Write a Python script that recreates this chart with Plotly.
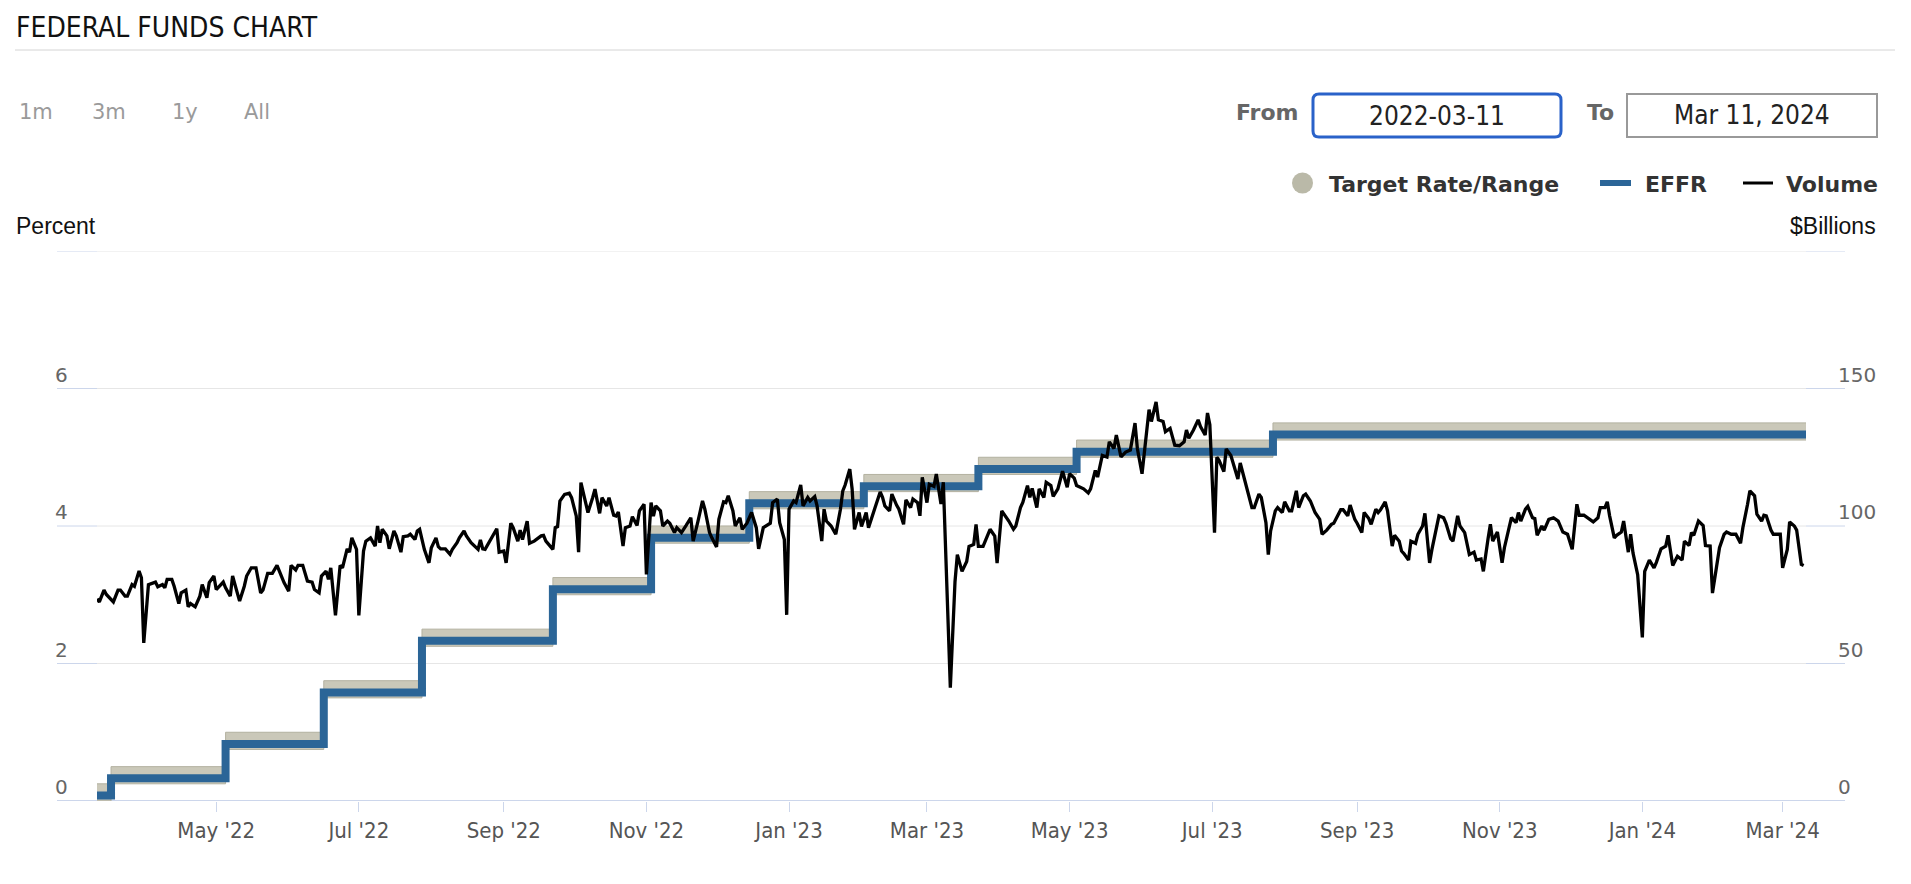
import plotly.graph_objects as go
import pandas as pd

# ---------------- DATA ----------------
START_DATE = "2022-03-11"
END_DATE = "2024-03-11"

# Policy changes (step series)
rate_dates = ["2022-03-11", "2022-03-17", "2022-05-05", "2022-06-16", "2022-07-28", "2022-09-22",
              "2022-11-03", "2022-12-15", "2023-02-02", "2023-03-23", "2023-05-04", "2023-07-27",
              "2024-03-11"]
effr_values = [0.08, 0.33, 0.83, 1.58, 2.33, 3.08, 3.83, 4.33, 4.58, 4.83, 5.08, 5.33, 5.33]
target_lower = [0.00, 0.25, 0.75, 1.50, 2.25, 3.00, 3.75, 4.25, 4.50, 4.75, 5.00, 5.25, 5.25]
target_upper = [0.25, 0.50, 1.00, 1.75, 2.50, 3.25, 4.00, 4.50, 4.75, 5.00, 5.25, 5.50, 5.50]

# Volume ($Billions); x given as days after START_DATE
vol_days_1 = [0, 1, 3, 4, 7, 9, 10, 12, 13, 15, 16, 18, 19, 20, 22, 23, 25, 26, 28, 29, 30, 32, 33, 35, 36, 38,
              39, 40, 42, 44, 45, 47, 48, 50, 51, 54, 55, 57, 58, 60, 61, 63, 64, 66, 68, 70, 71, 73, 75, 77,
              79, 80, 82, 83, 85, 86, 88, 89, 90, 92, 93, 95, 96, 98, 99, 100, 102, 104, 105, 107, 108, 109,
              111, 112, 114, 115, 117, 119, 120, 121]
vol_vals_1 = [73.5, 72.4, 76.7, 75.1, 72.4, 76.7, 76.7, 74.5, 74.5, 78.7, 78.1, 83.6, 81.2, 57.5, 78.7, 79.1,
              79.6, 77.9, 78.7, 77.5, 80.6, 80.6, 78.1, 71.8, 75.7, 76.7, 70.6, 71.8, 70.6, 74.5, 78.7, 73.9,
              79.4, 81.8, 76.9, 79.6, 77.5, 74.5, 81.8, 75.7, 72.7, 78.1, 81.8, 84.8, 84.8, 75.7, 76.7, 82.8,
              82.8, 85.7, 81.2, 79.4, 76.3, 85.7, 84.0, 85.7, 85.7, 82.4, 80.0, 79.6, 76.9, 75.7, 81.8, 83.6,
              80.6, 84.8, 67.5, 85.7, 84.8, 91.7, 90.5, 95.7, 91.5, 67.5, 90.9, 94.5, 95.7, 92.7, 100.0, 93.9]

vol_days_2 = [122, 124, 125, 127, 128, 130, 131, 133, 134, 136, 137, 138, 140, 142, 143, 145, 146, 147, 149,
              151, 152, 154, 155, 157, 158, 160, 161, 163, 164, 165, 166, 168, 170, 171, 172, 174, 175, 177,
              178, 180, 181, 182, 184, 185, 187, 188, 190, 191, 192, 195, 196, 197, 198, 200, 202, 203, 205,
              206, 207, 209, 210, 212, 213, 215, 216, 218, 219, 221, 222, 223, 225, 226, 228, 229, 231, 232,
              234, 235, 237, 238, 239]
vol_vals_2 = [98.8, 96.4, 91.7, 98.2, 96.4, 90.5, 96.1, 96.4, 97.0, 95.1, 98.2, 98.8, 91.5, 86.6, 92.1, 95.7,
              92.5, 91.7, 91.7, 89.7, 91.5, 93.9, 95.7, 98.2, 96.4, 93.9, 93.0, 91.5, 94.9, 91.7, 91.5, 94.5,
              97.0, 99.0, 90.5, 90.9, 86.6, 101.0, 99.4, 94.5, 98.5, 95.1, 101.8, 93.7, 94.5, 95.1, 96.4, 96.6,
              94.5, 91.5, 99.4, 99.8, 109.1, 111.5, 111.9, 110.3, 103.6, 90.5, 115.8, 108.5, 104.9, 110.3,
              113.4, 104.6, 110.3, 107.3, 110.3, 103.9, 103.6, 105.1, 92.7, 99.4, 100.0, 103.4, 100.2, 105.5,
              107.9, 82.4, 108.5, 103.6, 107.3]

vol_days_3 = [241, 242, 244, 245, 247, 248, 250, 251, 252, 254, 255, 257, 259, 260, 262, 263, 265, 266, 268,
              269, 270, 272, 273, 275, 276, 278, 279, 280, 282, 283, 285, 286, 288, 289, 291, 292, 294, 295,
              296, 298, 299, 301, 302, 304, 305, 307, 308, 310, 311, 312, 314, 316, 318, 319, 320, 322, 323,
              324, 326, 327, 329, 330, 332, 335, 336, 337, 339, 340, 342, 343, 345, 346, 348, 349, 351, 352,
              353, 355, 356, 358, 359]
vol_vals_3 = [105.5, 100.0, 101.8, 101.0, 97.6, 99.4, 97.6, 98.8, 100.2, 103.0, 94.5, 101.5, 109.1, 106.1,
              97.6, 95.7, 92.4, 102.4, 108.8, 108.5, 111.0, 105.5, 100.0, 103.0, 98.8, 101.0, 103.0, 104.9,
              99.4, 91.7, 99.4, 100.0, 101.0, 108.5, 109.8, 101.2, 95.1, 67.7, 106.1, 109.1, 108.5, 114.9,
              107.3, 110.4, 109.1, 110.7, 107.3, 94.5, 106.1, 101.8, 100.0, 97.0, 106.1, 112.8, 114.9, 120.7,
              113.4, 98.8, 104.9, 99.8, 104.9, 99.4, 104.9, 112.4, 110.4, 107.3, 105.5, 111.6, 107.6, 106.1,
              100.6, 109.5, 106.7, 109.8, 108.5, 103.7, 117.7, 108.5, 115.2, 114.4, 118.9]

vol_days_4 = [361, 362, 363, 365, 367, 368, 370, 372, 373, 375, 376, 377, 379, 382, 384, 385, 387, 389, 390,
              392, 393, 395, 396, 398, 399, 400, 402, 403, 405, 406, 408, 409, 411, 413, 415, 416, 418, 419,
              422, 424, 425, 427, 428, 430, 432, 433, 435, 436, 438, 440, 442, 444, 445, 447, 449, 450, 451,
              453, 454, 456, 457, 459, 461, 463, 465, 466, 467, 469, 471, 472, 474, 475, 476, 478, 479, 480]
vol_vals_4 = [108.0, 115.9, 91.4, 41.2, 79.8, 89.6, 83.5, 87.1, 92.6, 93.3, 100.6, 92.6, 92.6, 98.8, 96.3,
              86.5, 105.5, 103.1, 101.8, 98.8, 100.0, 106.7, 108.6, 114.7, 110.4, 113.7, 106.7, 113.5, 110.4,
              115.9, 114.7, 110.8, 113.5, 119.9, 114.1, 119.0, 117.4, 114.7, 113.5, 112.0, 113.5, 120.2, 117.8,
              125.7, 125.1, 130.6, 128.2, 133.1, 125.1, 126.9, 127.6, 137.4, 128.2, 119.0, 134.9, 142.3, 138.0,
              145.1, 138.6, 138.0, 134.3, 135.5, 129.4, 129.2, 130.6, 134.9, 131.9, 134.9, 138.6, 136.2, 133.1,
              141.1, 136.8, 97.6, 125.0, 123.8]

vol_days_5 = [482, 483, 485, 486, 488, 489, 491, 492, 494, 495, 497, 498, 500, 501, 502, 504, 505, 507, 508,
              510, 511, 513, 514, 516, 517, 519, 521, 523, 524, 526, 528, 529, 532, 533, 535, 536, 538, 539,
              541, 542, 544, 545, 547, 548, 549, 551, 552, 554, 555, 557, 558, 559, 561, 562, 564, 565, 567,
              568, 570, 571, 573, 574, 576, 577, 579, 580, 582, 583, 585, 586, 587, 589, 590, 592, 593, 595]
vol_vals_5 = [119.8, 128.0, 125.6, 122.6, 117.1, 122.9, 116.5, 112.8, 106.7, 106.7, 111.6, 110.4, 101.2, 89.6,
              98.2, 105.5, 106.7, 104.9, 108.8, 105.5, 105.5, 112.8, 106.7, 111.0, 111.6, 109.1, 104.9, 102.4,
              97.0, 98.5, 100.6, 101.0, 105.9, 105.9, 103.7, 107.6, 102.4, 101.0, 97.6, 104.9, 102.7, 100.6,
              106.1, 104.9, 105.9, 108.8, 105.5, 92.7, 96.6, 94.5, 90.9, 90.0, 87.6, 94.5, 93.7, 97.0, 100.0,
              104.6, 86.6, 91.5, 98.8, 103.7, 103.0, 101.0, 95.4, 94.5, 103.7, 100.0, 97.6, 93.7, 89.6, 90.5,
              87.6, 88.0, 83.5, 95.4]

vol_days_6 = [596, 597, 599, 601, 602, 604, 605, 607, 608, 609, 611, 612, 614, 615, 616, 618, 619, 621, 623,
              625, 627, 629, 631, 633, 634, 636, 639, 640, 642, 643, 645, 646, 647, 649, 650, 652, 653, 655,
              656, 657, 659, 661, 662, 664, 666, 667, 669, 671, 672, 674, 676, 678, 679, 681, 682, 683, 685,
              687, 688, 690, 691, 692, 694, 696, 697, 699, 701, 703, 704, 706, 707, 709, 710, 712, 713, 714,
              716, 717, 719, 720, 721, 723, 724, 726, 727, 729, 730]
vol_vals_6 = [100.6, 94.5, 97.8, 86.6, 92.1, 99.4, 103.0, 101.2, 104.9, 101.8, 106.1, 107.1, 103.0, 102.7,
              96.6, 100.0, 98.5, 102.4, 103.0, 101.8, 97.8, 97.0, 91.5, 107.9, 103.9, 103.9, 102.2, 101.5,
              103.0, 106.7, 106.7, 108.8, 103.7, 95.7, 96.6, 97.8, 101.8, 90.5, 97.0, 90.2, 82.3, 59.5, 83.5,
              87.6, 84.8, 86.8, 91.7, 92.7, 96.6, 85.6, 89.0, 87.6, 94.5, 92.9, 97.6, 96.6, 101.8, 100.2, 92.9,
              92.7, 75.6, 81.7, 92.1, 97.0, 97.8, 97.0, 97.0, 93.7, 99.4, 107.9, 112.8, 111.0, 104.3, 101.8,
              103.9, 103.7, 98.5, 97.0, 97.0, 97.0, 84.8, 91.5, 101.5, 100.0, 98.5, 86.0, 85.6]

left_ticks = [0, 2, 4, 6]
right_ticks = [0, 50, 100, 150]
grid_levels = [0, 2, 4, 6, 8]
range_buttons = ["1m", "3m", "1y", "All"]

# ---------------- BUILD ----------------
segments = [(vol_days_1, vol_vals_1), (vol_days_2, vol_vals_2), (vol_days_3, vol_vals_3),
            (vol_days_4, vol_vals_4), (vol_days_5, vol_vals_5), (vol_days_6, vol_vals_6)]
vol_days, vol_vals = [], []
for i, (d, v) in enumerate(segments):
    if len(d) != len(v):
        raise ValueError(f"segment {i+1}: {len(d)} days vs {len(v)} values")
    vol_days += d
    vol_vals += v
start = pd.Timestamp(START_DATE)
vol_dates = [(start + pd.Timedelta(days=d)).strftime("%Y-%m-%d") for d in vol_days]

W, H = 1911, 884
L, R, T, B = 97, 1806, 251, 801


def px(x):
    return (x - L) / (R - L)


def py(y):
    return (B - y) / (B - T)


BAND_LINE = "#b3b1a0"
BAND_FILL = "#cac8b9"
BLUE = "#2b6597"
AXIS_BLUE = "#ccd6eb"
GRID = "#e6e6e6"

fig = go.Figure()
fig.add_trace(go.Scatter(x=rate_dates, y=target_lower, mode="lines", line=dict(color=BAND_LINE, width=1, shape="hv"),
                         hoverinfo="skip", showlegend=False))
fig.add_trace(go.Scatter(x=rate_dates, y=target_upper, mode="lines", line=dict(color=BAND_LINE, width=1, shape="hv"),
                         fill="tonexty", fillcolor=BAND_FILL, name="Target Rate/Range", showlegend=False))
fig.add_trace(go.Scatter(x=rate_dates, y=effr_values, mode="lines", line=dict(color=BLUE, width=8, shape="hv"),
                         name="EFFR", showlegend=False))
fig.add_trace(go.Scatter(x=vol_dates, y=vol_vals, mode="lines", line=dict(color="black", width=3.3),
                         name="Volume", yaxis="y2", showlegend=False))

shapes = []
for g in grid_levels:
    col = AXIS_BLUE if g == 0 else GRID
    shapes.append(dict(type="line", xref="paper", yref="y", x0=0, x1=1, y0=g, y1=g,
                       line=dict(color=col, width=2 if g == 0 else 1), layer="below"))
    shapes.append(dict(type="line", xref="paper", yref="y", x0=px(57), x1=0, y0=g, y1=g,
                       line=dict(color=AXIS_BLUE, width=2 if g == 0 else 1), layer="below"))
    shapes.append(dict(type="line", xref="paper", yref="y", x0=1, x1=px(1845), y0=g, y1=g,
                       line=dict(color=AXIS_BLUE, width=2 if g == 0 else 1), layer="below"))

# title rule
shapes.append(dict(type="line", xref="paper", yref="paper", x0=px(15), x1=px(1895), y0=py(50), y1=py(50),
                   line=dict(color="#d4d4d4", width=1)))


def rrect(x0, y0, x1, y1, r):
    pts = [("M", [(x0 + r, y0)]), ("L", [(x1 - r, y0)]), ("Q", [(x1, y0), (x1, y0 + r)]),
           ("L", [(x1, y1 - r)]), ("Q", [(x1, y1), (x1 - r, y1)]), ("L", [(x0 + r, y1)]),
           ("Q", [(x0, y1), (x0, y1 - r)]), ("L", [(x0, y0 + r)]), ("Q", [(x0, y0), (x0 + r, y0)])]
    s = ""
    for cmd, ps in pts:
        s += cmd + " " + " ".join(f"{px(a):.6f},{py(b):.6f}" for a, b in ps) + " "
    return s + "Z"


shapes.append(dict(type="path", xref="paper", yref="paper", path=rrect(1313, 94, 1561, 137, 6),
                   line=dict(color="#2a62c9", width=3), fillcolor="white"))
shapes.append(dict(type="rect", xref="paper", yref="paper", x0=px(1627), x1=px(1877), y0=py(94), y1=py(137),
                   line=dict(color="#999999", width=2), fillcolor="white"))

# legend symbols
shapes.append(dict(type="circle", xref="paper", yref="paper", x0=px(1292), x1=px(1313), y0=py(193.5), y1=py(172.5),
                   line=dict(width=0), fillcolor="#bab9a8"))
shapes.append(dict(type="line", xref="paper", yref="paper", x0=px(1600), x1=px(1631), y0=py(183), y1=py(183),
                   line=dict(color=BLUE, width=6)))
shapes.append(dict(type="line", xref="paper", yref="paper", x0=px(1743), x1=px(1773), y0=py(183), y1=py(183),
                   line=dict(color="black", width=3)))

ann = []


def text(x, y, s, size, color, family, xanchor="left", yanchor="middle", weight="normal"):
    ann.append(dict(xref="paper", yref="paper", x=px(x), y=py(y), text=s, showarrow=False,
                    xanchor=xanchor, yanchor=yanchor,
                    font=dict(size=size, color=color, family=family, weight=weight)))


COND = "DejaVu Sans Condensed, sans-serif"
text(14, 27, "FEDERAL FUNDS CHART", 28, "#111111", COND)
btn_x = [17, 90, 170, 242]
for bx, lab in zip(btn_x, range_buttons):
    text(bx, 112, lab, 21, "#9a9a9a", "DejaVu Sans")
text(1301, 112, "From", 22, "#666666", "DejaVu Sans", xanchor="right", weight="bold")
text(1616, 112, "To", 22, "#666666", "DejaVu Sans", xanchor="right", weight="bold")
text(1437, 116, "2022-03-11", 26, "#222222", "DejaVu Sans Condensed, DejaVu Sans", xanchor="center")
text(1752, 115, "Mar 11, 2024", 26, "#222222", "DejaVu Sans Condensed, DejaVu Sans", xanchor="center")
text(1327, 184, "Target Rate/Range", 22, "#333333", "DejaVu Sans", weight="bold")
text(1643, 184, "EFFR", 22, "#333333", "DejaVu Sans", weight="bold")
text(1784, 184, "Volume", 22, "#333333", "DejaVu Sans", weight="bold")
text(14, 226, "Percent", 23, "#111111", "Liberation Sans, Arial")
text(1878, 226, "$Billions", 23, "#111111", "Liberation Sans, Arial", xanchor="right")

for v in left_ticks:
    ann.append(dict(xref="paper", yref="y", x=px(53), y=v, text=str(v), showarrow=False,
                    xanchor="left", yanchor="bottom", yshift=0,
                    font=dict(size=20, color="#666666", family="DejaVu Sans")))
for v in right_ticks:
    ann.append(dict(xref="paper", yref="y2", x=px(1836), y=v, text=str(v), showarrow=False,
                    xanchor="left", yanchor="bottom", yshift=0,
                    font=dict(size=20, color="#666666", family="DejaVu Sans")))

fig.update_layout(
    width=W, height=H, autosize=False,
    margin=dict(l=L, r=W - R, t=T, b=H - B),
    paper_bgcolor="white", plot_bgcolor="white",
    showlegend=False,
    xaxis=dict(type="date", range=[START_DATE, END_DATE], showgrid=False, zeroline=False, showline=False,
               tick0="2022-05-01", dtick="M2", tickformat="%b '%y", ticks="outside", ticklen=10,
               tickcolor=AXIS_BLUE, tickwidth=1, ticklabelstandoff=0,
               tickfont=dict(size=22, color="#555555", family="DejaVu Sans Condensed, DejaVu Sans")),
    yaxis=dict(range=[0, 8], showgrid=False, zeroline=False, showticklabels=False, showline=False),
    yaxis2=dict(range=[0, 200], overlaying="y", side="right", showgrid=False, zeroline=False,
                showticklabels=False, showline=False),
    shapes=shapes,
    annotations=ann,
)

fig.write_html("out.html", config={"displayModeBar": False})
